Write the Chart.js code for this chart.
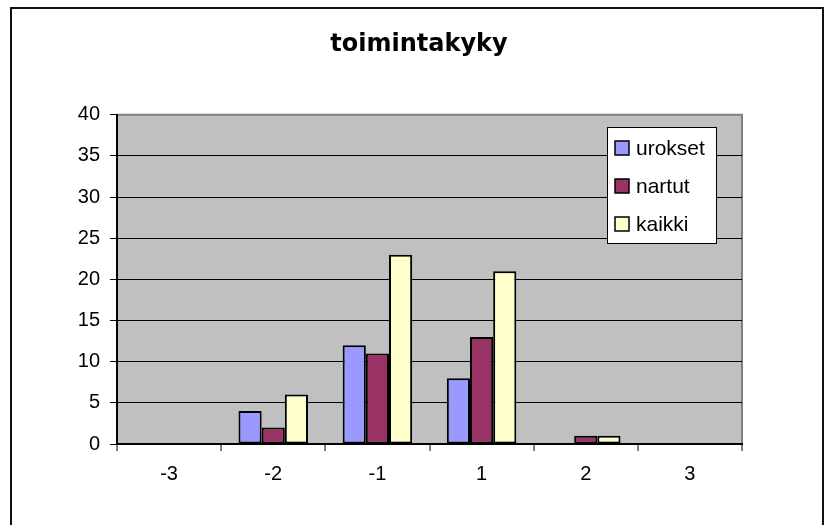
<!DOCTYPE html>
<html>
<head>
<meta charset="utf-8">
<script src="https://cdn.jsdelivr.net/npm/chart.js@4"></script>
<style>
  body { margin: 0; background: #fff; }
</style>
</head>
<body>
<canvas id="grafico" width="826" height="525"></canvas>
<script>
const luokat = ['-3', '-2', '-1', '1', '2', '3'];
const urokset = [0, 4, 12, 8, 0, 0];
const nartut = [0, 2, 11, 13, 1, 0];
const kaikki = [0, 6, 23, 21, 1, 0];

// harmaa piirtoalue + reunat
const taustaPlugin = {
  id: 'tausta',
  beforeDraw(chart) {
    const { ctx, chartArea: a } = chart;
    ctx.save();
    ctx.fillStyle = '#C0C0C0';
    ctx.fillRect(a.left, a.top, a.right - a.left, a.bottom - a.top);
    ctx.strokeStyle = '#808080';
    ctx.lineWidth = 2;
    ctx.beginPath();
    ctx.moveTo(a.left, a.top);
    ctx.lineTo(a.right, a.top);
    ctx.lineTo(a.right, a.bottom);
    ctx.stroke();
    ctx.restore();
  },
  afterDraw(chart) {
    const ctx = chart.ctx;
    ctx.save();
    // ulkoreuna
    ctx.strokeStyle = '#111';
    ctx.lineWidth = 2;
    ctx.strokeRect(11, 8, 812, 540);
    ctx.restore();
  }
};

// selite piirtoalueen sisällä
const selitePlugin = {
  id: 'selite',
  afterDraw(chart) {
    const ctx = chart.ctx;
    const x = 607, y = 127, w = 109, h = 116;
    ctx.save();
    ctx.fillStyle = '#fff';
    ctx.fillRect(x, y, w, h);
    ctx.strokeStyle = '#000';
    ctx.lineWidth = 1;
    ctx.strokeRect(x + 0.5, y + 0.5, w, h);
    ctx.font = '21px "Liberation Sans", Arial, sans-serif';
    ctx.textBaseline = 'middle';
    chart.data.datasets.forEach((ds, i) => {
      const cy = 148 + i * 38;
      ctx.fillStyle = ds.backgroundColor;
      ctx.fillRect(615, cy - 7, 14, 14);
      ctx.lineWidth = 1.5;
      ctx.strokeStyle = '#000';
      ctx.strokeRect(615, cy - 7, 14, 14);
      ctx.fillStyle = '#000';
      ctx.fillText(ds.label, 636, cy + 1);
    });
    ctx.restore();
  }
};

const fontti = { family: '"Liberation Sans", Arial, sans-serif', size: 20 };

const grafico = new Chart(document.getElementById('grafico'), {
  type: 'bar',
  data: {
    labels: luokat,
    datasets: [
      { label: 'urokset', data: urokset, backgroundColor: '#9999FF', borderColor: '#000', borderWidth: 2 },
      { label: 'nartut', data: nartut, backgroundColor: '#993366', borderColor: '#000', borderWidth: 2 },
      { label: 'kaikki', data: kaikki, backgroundColor: '#FFFFCC', borderColor: '#000', borderWidth: 2 }
    ]
  },
  options: {
    responsive: false,
    animation: false,
    layout: { padding: { left: 14, right: 2, top: 0, bottom: 0 } },
    datasets: { bar: { categoryPercentage: 0.667, barPercentage: 1.0, borderSkipped: false } },
    plugins: {
      legend: { display: false },
      tooltip: { enabled: false },
      title: {
        display: true,
        text: 'toimintakyky',
        color: '#000',
        font: { family: '"DejaVu Sans", sans-serif', size: 24, weight: 'bold' },
        padding: { top: 30, bottom: 56 }
      }
    },
    scales: {
      x: {
        afterFit(scale) { scale.height = 81; },
        grid: { offset: true, drawOnChartArea: false, tickLength: 7, color: '#808080', lineWidth: 2 },
        border: { color: '#000', width: 2 },
        ticks: { color: '#000', font: fontti, padding: 11 }
      },
      y: {
        min: 0,
        max: 40,
        afterFit(scale) { scale.width = 103; },
        grid: {
          color: ctx => (ctx.tick && ctx.tick.value === 40 ? '#808080' : '#000'),
          tickColor: '#000',
          tickLength: 7,
          lineWidth: 1
        },
        border: { color: '#000', width: 2 },
        ticks: { stepSize: 5, color: '#000', font: fontti, padding: 10 }
      },
      // tyhjä oikea akseli vain tilaa varten
      oikea: {
        position: 'right',
        min: 0,
        max: 40,
        afterFit(scale) { scale.width = 82; },
        grid: { display: false },
        border: { display: false },
        ticks: { display: false }
      }
    }
  },
  plugins: [taustaPlugin, selitePlugin]
});
</script>
</body>
</html>
